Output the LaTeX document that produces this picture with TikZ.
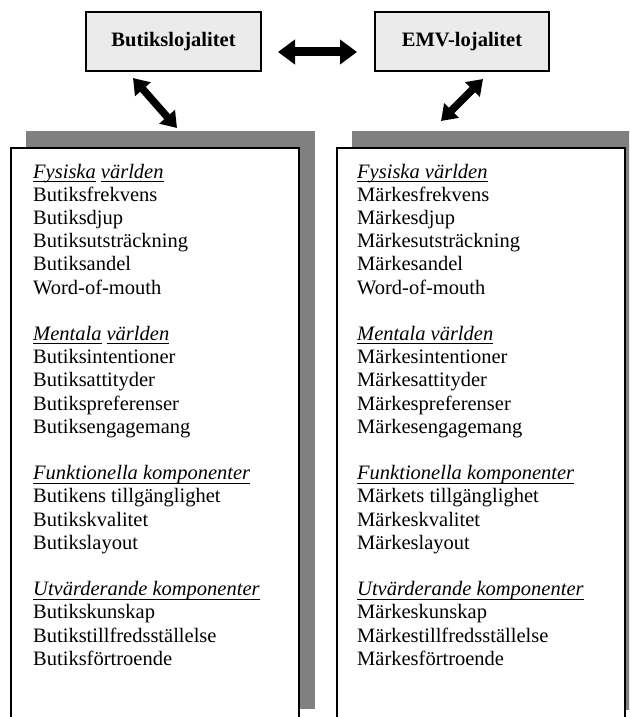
\documentclass[tikz,border=0pt]{standalone}
\usepackage{fontspec}
\setmainfont{Liberation Serif}
\usetikzlibrary{arrows.meta}

% underline at a fixed depth below the baseline
\newcommand\ulword[1]{\setbox0\hbox{#1}\rlap{\rule[-4pt]{\wd0}{1.1pt}}\box0\relax}

\definecolor{hdrgray}{HTML}{EBEBEB}
\definecolor{shadowgray}{HTML}{808080}

\begin{document}
\begin{tikzpicture}[x=1pt,y=-1pt,
  hdrbox/.style={draw=black,line width=1.4pt,fill=hdrgray,inner sep=0pt,
    font=\bfseries\fontsize{20.5}{23}\selectfont},
  shadowbox/.style={fill=shadowgray,draw=none},
  listbox/.style={fill=white,draw=black,line width=1.5pt},
  listline/.style={anchor=base west,inner sep=0pt,font=\fontsize{20.5}{23.2}\selectfont},
  bigarrow/.style={line width=9pt,
    {Triangle[length=17pt,width=24pt]}-{Triangle[length=17pt,width=24pt]}},
  diagarrow/.style={line width=7.5pt,
    {Triangle[length=15pt,width=20pt]}-{Triangle[length=15pt,width=20pt]}}
]
\useasboundingbox (0,0) rectangle (629,717);
\clip (0,0) rectangle (629,717);

% header boxes
\node[hdrbox,minimum width=175pt,minimum height=59pt] (butik) at (173.5,41.5) {Butikslojalitet};
\node[hdrbox,minimum width=174pt,minimum height=59pt] (emv) at (462,41.5) {EMV-lojalitet};

% list boxes with drop shadows
\fill[shadowbox] (26,131) rectangle (315,709);
\filldraw[listbox] (11,148) rectangle (299,760);
\fill[shadowbox] (352,131) rectangle (660,710);
\filldraw[listbox] (337,148) rectangle (625,760);

% arrow end points
\coordinate (hL) at (278,52);
\coordinate (hR) at (357,52);
\coordinate (dLa) at (133,78);
\coordinate (dLb) at (177,128);
\coordinate (dRa) at (483,79);
\coordinate (dRb) at (441,121);

\draw[bigarrow] (hL) -- (hR);
\draw[diagarrow] (dLa) -- (dLb);
\draw[diagarrow] (dRa) -- (dRb);

% left list
\foreach \i/\t in {
  0/{\textit{\ulword{Fysiska} \ulword{världen}}},
  1/Butiksfrekvens, 2/Butiksdjup, 3/Butiksutsträckning, 4/Butiksandel, 5/Word-of-mouth,
  7/{\textit{\ulword{Mentala} \ulword{världen}}},
  8/Butiksintentioner, 9/Butiksattityder, 10/Butikspreferenser, 11/Butiksengagemang,
  13/{\textit{\ulword{Funktionella komponenter}}},
  14/Butikens tillgänglighet, 15/Butikskvalitet, 16/Butikslayout,
  18/{\textit{\ulword{Utvärderande komponenter}}},
  19/Butikskunskap, 20/Butikstillfredsställelse, 21/Butiksförtroende}
  \node[listline] (L\i) at (33,178+23.2*\i) {\t};

% right list
\foreach \i/\t in {
  0/{\textit{\ulword{Fysiska världen}}},
  1/Märkesfrekvens, 2/Märkesdjup, 3/Märkesutsträckning, 4/Märkesandel, 5/Word-of-mouth,
  7/{\textit{\ulword{Mentala världen}}},
  8/Märkesintentioner, 9/Märkesattityder, 10/Märkespreferenser, 11/Märkesengagemang,
  13/{\textit{\ulword{Funktionella komponenter}}},
  14/Märkets tillgänglighet, 15/Märkeskvalitet, 16/Märkeslayout,
  18/{\textit{\ulword{Utvärderande komponenter}}},
  19/Märkeskunskap, 20/Märkestillfredsställelse, 21/Märkesförtroende}
  \node[listline] (R\i) at (357,178+23.2*\i) {\t};
\end{tikzpicture}
\end{document}
